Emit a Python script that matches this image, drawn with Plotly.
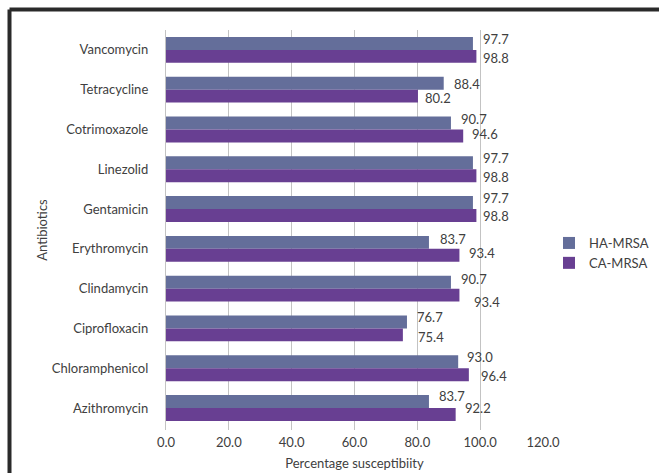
import plotly.graph_objects as go

# Antibiotic susceptibility of MRSA isolates (%)
antibiotics = ["Vancomycin", "Tetracycline", "Cotrimoxazole", "Linezolid", "Gentamicin",
               "Erythromycin", "Clindamycin", "Ciprofloxacin", "Chloramphenicol", "Azithromycin"]
ha_mrsa = [97.7, 88.4, 90.7, 97.7, 97.7, 83.7, 90.7, 76.7, 93.0, 83.7]
ca_mrsa = [98.8, 80.2, 94.6, 98.8, 98.8, 93.4, 93.4, 75.4, 96.4, 92.2]
x_ticks = [0, 20, 40, 60, 80, 100, 120]

# label nudges in pixels (xshift, yshift from the category centre)
ha_shift = [(8, 11), (8, 6), (8, 10), (8, 11), (8, 11), (9, 10), (8, 10), (8, 11), (7, 11), (8, 12)]
ca_shift = [(5, -8), (5, -8), (7, -5), (5, -8), (5, -7), (8, -4), (13, -13), (13, -9), (10, -8), (7, 0)]

HA_COLOR = "#646E9A"
CA_COLOR = "#683F92"
TEXT = "#404040"
FONT = "Lato"
FS = 13

W, H = 659, 473
L, R, T, B = 166, 116, 30, 43
PW, PH = W - L - R, H - T - B


def px_x(x):
    return (x - L) / PW


def px_y(y):
    return 1 - (y - T) / PH


fig = go.Figure()
fig.add_trace(go.Bar(y=antibiotics, x=ha_mrsa, name="HA-MRSA", orientation="h",
                     legendgroup="ha", marker=dict(color=HA_COLOR, line=dict(width=0))))
fig.add_trace(go.Bar(y=antibiotics, x=ca_mrsa, name="CA-MRSA", orientation="h",
                     legendgroup="ca", marker=dict(color=CA_COLOR, line=dict(width=0))))

annotations = []
for i, name in enumerate(antibiotics):
    for vals, shifts in ((ha_mrsa, ha_shift), (ca_mrsa, ca_shift)):
        dx, dy = shifts[i]
        annotations.append(dict(
            x=vals[i], y=name, xref="x", yref="y", text=f"{vals[i]:.1f}",
            showarrow=False, xanchor="left", yanchor="middle",
            xshift=dx, yshift=dy,
            font=dict(family=FONT, size=FS, color=TEXT)))

fig.update_layout(
    width=W, height=H,
    margin=dict(l=L, r=R, t=T, b=B, pad=0, autoexpand=False),
    paper_bgcolor="white", plot_bgcolor="white",
    barmode="group", bargap=0.35, bargroupgap=0,
    font=dict(family=FONT, size=FS, color=TEXT),
    xaxis=dict(range=[0, 120], tickvals=x_ticks, ticktext=[f"{v:.1f}" for v in x_ticks],
               showgrid=True, gridcolor="#C3C3C3", gridwidth=1.3, zeroline=False,
               showline=False, ticks="", ticklabelstandoff=3, automargin=False,
               title=dict(text="Percentage susceptibiity", standoff=9,
                          font=dict(family=FONT, size=FS, color=TEXT)),
               tickfont=dict(family=FONT, size=FS, color=TEXT)),
    yaxis=dict(autorange="reversed", showgrid=False, showline=True, linecolor="#C3C3C3",
               linewidth=1.3, ticks="", ticklabelstandoff=14, automargin=False,
               title=dict(text="Antibiotics", standoff=1,
                          font=dict(family=FONT, size=FS, color=TEXT)),
               tickfont=dict(family=FONT, size=FS, color=TEXT)),
    legend=dict(x=px_x(549), y=px_y(228), xanchor="left", yanchor="top",
                bgcolor="rgba(0,0,0,0)", font=dict(family=FONT, size=FS, color=TEXT),
                traceorder="normal", tracegroupgap=3),
    annotations=annotations,
    shapes=[
        dict(type="line", xref="paper", yref="paper", x0=px_x(9.5), x1=px_x(W + 5),
             y0=px_y(9.5), y1=px_y(9.5), line=dict(color="#2A2A2A", width=4)),
        dict(type="line", xref="paper", yref="paper", x0=px_x(9.5), x1=px_x(9.5),
             y0=px_y(9.5), y1=px_y(H + 5), line=dict(color="#2A2A2A", width=4)),
    ],
)

fig.write_html("out.html")
